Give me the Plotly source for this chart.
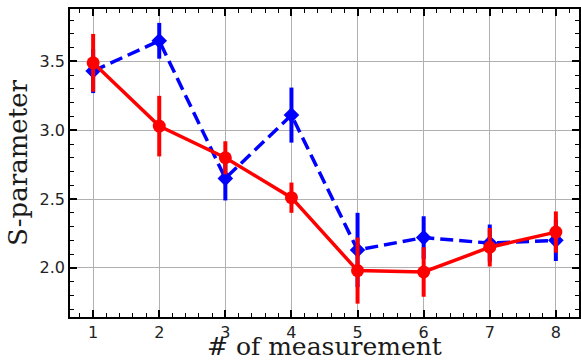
import plotly.graph_objects as go

# Measurement index
measurement = [1, 2, 3, 4, 5, 6, 7, 8]

# Series A (red, solid, circles)
s_red = [3.49, 3.03, 2.80, 2.51, 1.98, 1.97, 2.15, 2.26]
err_red = [0.21, 0.22, 0.12, 0.11, 0.24, 0.18, 0.14, 0.15]

# Series B (blue, dashed, diamonds)
s_blue = [3.43, 3.65, 2.65, 3.11, 2.13, 2.22, 2.18, 2.20]
err_blue = [0.16, 0.13, 0.16, 0.20, 0.27, 0.155, 0.135, 0.15]

fig = go.Figure()

fig.add_trace(go.Scatter(
    x=measurement, y=s_blue, mode="lines+markers",
    line=dict(color="#0000ff", width=3.5, dash="13px,6px"),
    marker=dict(symbol="diamond", size=12, color="#0000ff"),
    error_y=dict(type="data", array=err_blue, color="#0000ff", thickness=4, width=0),
    showlegend=False,
))
fig.add_trace(go.Scatter(
    x=measurement, y=s_red, mode="lines+markers",
    line=dict(color="#ff0000", width=3.5),
    marker=dict(symbol="circle", size=13, color="#ff0000"),
    error_y=dict(type="data", array=err_red, color="#ff0000", thickness=4, width=0),
    showlegend=False,
))

axis_common = dict(
    showline=True, linecolor="black", linewidth=1.5, mirror="allticks",
    ticks="inside", ticklen=7, tickwidth=1.5, tickcolor="black",
    showgrid=True, gridcolor="#b0b0b0", gridwidth=1.2,
    zeroline=False,
    tickfont=dict(family="DejaVu Sans", size=16, color="#222222"),
)

fig.update_xaxes(
    range=[0.65, 8.35], tickmode="array", tickvals=measurement,
    minor=dict(ticks="inside", ticklen=4, tickwidth=1.2, tickcolor="black", dtick=0.2, tick0=0, showgrid=False),
    **axis_common,
)
fig.update_yaxes(
    range=[1.643, 3.881], tickmode="array", tickvals=[2.0, 2.5, 3.0, 3.5],
    ticktext=["2.0", "2.5", "3.0", "3.5"],
    minor=dict(ticks="inside", ticklen=4, tickwidth=1.2, tickcolor="black", dtick=0.1, tick0=0, showgrid=False),
    title=dict(text="S-parameter", font=dict(family="DejaVu Serif", size=26, color="#1a1a1a"), standoff=4),
    **axis_common,
)

# x-axis title placed at the bottom edge of the figure
plot_h = 363 - 9 - 46
fig.add_annotation(
    text="# of measurement", xref="paper", yref="paper",
    x=0.5, y=-46 / plot_h, xanchor="center", yanchor="bottom",
    showarrow=False,
    font=dict(family="DejaVu Serif", size=25, color="#1a1a1a"),
)

fig.update_layout(
    width=581, height=363,
    margin=dict(l=70, r=0, t=9, b=46),
    plot_bgcolor="white", paper_bgcolor="white",
)

fig.write_html("out.html")
